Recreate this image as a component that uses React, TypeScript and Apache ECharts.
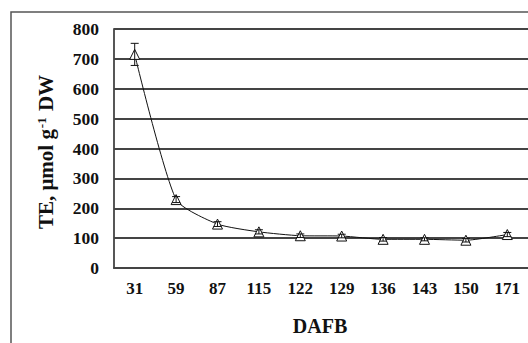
import React, { useEffect, useRef } from "react";
import * as echarts from "echarts";

const categories = ["31", "59", "87", "115", "122", "129", "136", "143", "150", "171"];
const teValues = [715, 229, 147, 121, 108, 107, 96, 96, 93, 112];
const teErrors = [37, 10, 8, 7, 6, 6, 6, 5, 6, 7];
const yTicks = [0, 100, 200, 300, 400, 500, 600, 700, 800];

export default function App() {
  const ref = useRef<HTMLDivElement>(null);
  useEffect(() => {
    document.body.style.margin = "0";
    const chart = echarts.init(ref.current!, null, { renderer: "svg" });
    const font = "'Liberation Serif', 'Times New Roman', serif";
    const errData = categories.map((_, i) => [i, teValues[i] - teErrors[i], teValues[i] + teErrors[i]]);
    chart.setOption({
      animation: false,
      backgroundColor: "#ffffff",
      grid: { left: 114, top: 29, width: 416, height: 239, containLabel: false },
      xAxis: {
        type: "category",
        data: categories,
        boundaryGap: true,
        axisLine: { show: true, lineStyle: { color: "#444", width: 1.8 } },
        axisTick: { show: false },
        axisLabel: { color: "#111", fontFamily: font, fontWeight: "bold", fontSize: 17, margin: 12 },
        splitLine: { show: false },
      },
      yAxis: {
        type: "value",
        min: yTicks[0],
        max: yTicks[yTicks.length - 1],
        interval: 100,
        axisLine: { show: true, lineStyle: { color: "#444", width: 1.8 } },
        axisTick: { show: false },
        axisLabel: { color: "#111", fontFamily: font, fontWeight: "bold", fontSize: 17.5, margin: 15 },
        splitLine: { show: true, lineStyle: { color: "#444", width: 1.8 } },
      },
      graphic: [
        {
          type: "rect",
          shape: { x: 11, y: 12, width: 700, height: 500 },
          style: { fill: "none", stroke: "#555", lineWidth: 1.5 },
          silent: true,
        },
        {
          type: "text",
          x: 46,
          y: 152,
          rotation: Math.PI / 2,
          style: {
            text: "TE, μmol g{sup|-1} DW",
            fontFamily: font,
            fontWeight: "bold",
            fontSize: 21,
            fill: "#111",
            align: "center",
            verticalAlign: "middle",
            rich: {
              sup: { fontFamily: font, fontWeight: "bold", fontSize: 13, fill: "#111", verticalAlign: "top", padding: [0, 1, 9, 1] },
            },
          },
        },
        {
          type: "text",
          x: 320,
          y: 326,
          style: {
            text: "DAFB",
            fontFamily: font,
            fontWeight: "bold",
            fontSize: 20,
            fill: "#111",
            align: "center",
            verticalAlign: "middle",
          },
        },
      ],
      series: [
        {
          type: "line",
          data: teValues,
          smooth: 0.2,
          symbol: "triangle",
          symbolSize: 10,
          lineStyle: { color: "#111", width: 1 },
          itemStyle: { color: "#ffffff", borderColor: "#111", borderWidth: 1 },
          z: 3,
        },
        {
          type: "custom",
          data: errData,
          z: 4,
          renderItem: (params: any, api: any) => {
            const x = api.value(0);
            const lo = api.coord([x, api.value(1)]);
            const hi = api.coord([x, api.value(2)]);
            const hw = 4;
            const style = { stroke: "#111", lineWidth: 1 };
            return {
              type: "group",
              children: [
                { type: "line", shape: { x1: lo[0], y1: lo[1], x2: hi[0], y2: hi[1] }, style },
                { type: "line", shape: { x1: lo[0] - hw, y1: lo[1], x2: lo[0] + hw, y2: lo[1] }, style },
                { type: "line", shape: { x1: hi[0] - hw, y1: hi[1], x2: hi[0] + hw, y2: hi[1] }, style },
              ],
            };
          },
        },
      ],
    });
    return () => chart.dispose();
  }, []);
  return <div ref={ref} style={{ width: 528, height: 343 }} />;
}
